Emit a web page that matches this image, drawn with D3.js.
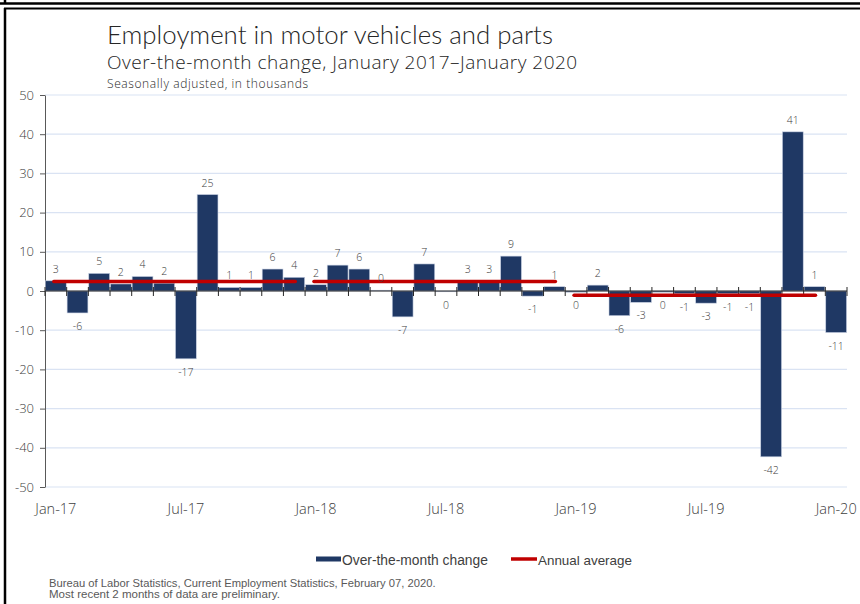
<!DOCTYPE html>
<html>
<head>
<meta charset="utf-8">
<script src="https://cdn.jsdelivr.net/npm/d3@7"></script>
<style>
  html, body { margin: 0; padding: 0; background: #fff; }
  svg { display: block; }
</style>
</head>
<body>
<svg id="chart" width="860" height="604"></svg>
<script>
// ---- data ----
const months = [
  "Jan-17","Feb-17","Mar-17","Apr-17","May-17","Jun-17","Jul-17","Aug-17","Sep-17","Oct-17","Nov-17","Dec-17",
  "Jan-18","Feb-18","Mar-18","Apr-18","May-18","Jun-18","Jul-18","Aug-18","Sep-18","Oct-18","Nov-18","Dec-18",
  "Jan-19","Feb-19","Mar-19","Apr-19","May-19","Jun-19","Jul-19","Aug-19","Sep-19","Oct-19","Nov-19","Dec-19",
  "Jan-20"
];
const monthlyChange = [
  2.6, -5.6, 4.5, 1.8, 3.7, 2.0, -17.3, 24.6, 0.9, 0.9, 5.6, 3.5,
  1.6, 6.6, 5.6, 0.2, -6.6, 6.9, -0.2, 2.6, 2.6, 8.9, -1.3, 1.1,
  -0.3, 1.5, -6.3, -2.9, -0.3, -0.7, -3.1, -0.7, -0.7, -42.3, 40.6, 1.1,
  -10.6
];
const annualYears = [
  {start: "Jan-17", end: "Dec-17", value: 2.4},
  {start: "Jan-18", end: "Dec-18", value: 2.4},
  {start: "Jan-19", end: "Dec-19", value: -1.1}
];
const xTickLabels = ["Jan-17","Jul-17","Jan-18","Jul-18","Jan-19","Jul-19","Jan-20"];
const yTicks = [-50,-40,-30,-20,-10,0,10,20,30,40,50];

const titleText = "Employment in motor vehicles and parts";
const subtitleText = "Over-the-month change, January 2017\u2013January 2020";
const noteText = "Seasonally adjusted, in thousands";
const legendBar = "Over-the-month change";
const legendLine = "Annual average";
const source1 = "Bureau of Labor Statistics, Current Employment Statistics, February 07, 2020.";
const source2 = "Most recent 2 months of data are preliminary.";

// ---- layout ----
const svg = d3.select("#chart");
const plotL = 45, plotR = 847, plotT = 95, plotB = 487;
const navy = "#1f3864", red = "#c00000", grey = "#595959";
const font = "'Liberation Sans', Arial, sans-serif";
const titleFont = "Lato, 'Open Sans', sans-serif";
const openFont = "'Open Sans', 'DejaVu Sans', sans-serif";

const x = d3.scaleBand().domain(months).range([plotL, plotR]).paddingInner(0.04).paddingOuter(0.02);
const y = d3.scaleLinear().domain([-50, 50]).range([plotB, plotT]);

function fit(sel, target) {
  const w = sel.node().getComputedTextLength();
  const fs = parseFloat(sel.attr("font-size"));
  if (w > 0) sel.attr("font-size", (fs * target / w).toFixed(2));
  return sel;
}

// frame
svg.append("line").attr("x1", 0).attr("x2", 860).attr("y1", 3.5).attr("y2", 3.5).attr("stroke", "#000").attr("stroke-width", 2.5);
svg.append("line").attr("x1", 5).attr("x2", 5).attr("y1", 0).attr("y2", 4).attr("stroke", "#000").attr("stroke-width", 2.5);
svg.append("line").attr("x1", 4).attr("x2", 860).attr("y1", 8.5).attr("y2", 8.5).attr("stroke", "#000").attr("stroke-width", 2);
svg.append("line").attr("x1", 5).attr("x2", 5).attr("y1", 8).attr("y2", 604).attr("stroke", "#000").attr("stroke-width", 2.5);

// titles
fit(svg.append("text").attr("x", 107).attr("y", 44).attr("font-family", titleFont).attr("font-weight", 300)
  .attr("font-size", 25).attr("fill", "#262626").text(titleText), 446);
svg.append("text").attr("x", 107).attr("y", 68.5).attr("font-family", openFont).attr("font-weight", 300)
  .attr("font-size", 19).attr("letter-spacing", 0.5).attr("fill", "#262626").text(subtitleText);
svg.append("text").attr("x", 107).attr("y", 87.5).attr("font-family", openFont).attr("font-weight", 300)
  .attr("font-size", 12).attr("letter-spacing", 0.6).attr("fill", "#262626").text(noteText);

// gridlines
svg.append("g").selectAll("line").data(yTicks.filter(d => d !== 0)).join("line")
  .attr("x1", plotL).attr("x2", plotR)
  .attr("y1", d => y(d)).attr("y2", d => y(d))
  .attr("stroke", "#dae3f3").attr("stroke-width", 1.2);

// y axis
const yAxis = svg.append("g").attr("transform", `translate(${plotL},0)`)
  .call(d3.axisLeft(y).tickValues(yTicks).tickSize(5).tickSizeOuter(0).tickPadding(6).tickFormat(d3.format("d")));
yAxis.select(".domain").attr("stroke", "#595959");
yAxis.selectAll(".tick line").attr("stroke", "#595959");
yAxis.selectAll("text").attr("font-family", openFont).attr("font-weight", 300).attr("font-size", 13).attr("fill", "#404040")
  .text(d => String(d));

// bars
const barData = months.map((m, i) => ({m, v: monthlyChange[i]}));
svg.append("g").selectAll("rect").data(barData).join("rect")
  .attr("x", d => x(d.m))
  .attr("width", x.bandwidth())
  .attr("y", d => y(Math.max(0, d.v)))
  .attr("height", d => Math.abs(y(d.v) - y(0)))
  .attr("fill", navy)
  .attr("stroke", "#c8d1e3").attr("stroke-width", 0.6);

// x axis line with ticks at band boundaries
const step = x.step();
const bounds = months.map(m => x(m) - x.paddingInner() * step / 2)
  .concat([x(months[months.length - 1]) + x.bandwidth() + x.paddingInner() * step / 2]);
const xg = svg.append("g");
xg.append("line").attr("x1", plotL).attr("x2", plotR).attr("y1", y(0)).attr("y2", y(0)).attr("stroke", "#262626").attr("stroke-width", 1);
xg.selectAll("line.t").data(bounds).join("line").attr("class", "t")
  .attr("x1", d => d).attr("x2", d => d).attr("y1", y(0) - 4).attr("y2", y(0) + 5)
  .attr("stroke", "#262626").attr("stroke-width", 1);

// x tick labels
svg.append("g").selectAll("text").data(xTickLabels).join("text")
  .attr("x", d => x(d) + x.bandwidth() / 2).attr("y", 514)
  .attr("text-anchor", "middle").attr("font-family", openFont).attr("font-weight", 300).attr("font-size", 14.5).attr("fill", "#404040")
  .text(d => d);

// annual average lines
svg.append("g").selectAll("line").data(annualYears).join("line")
  .attr("x1", d => x(d.start) + x.bandwidth() / 2 - 2)
  .attr("x2", d => x(d.end) + x.bandwidth() / 2 + 1)
  .attr("y1", d => y(d.value)).attr("y2", d => y(d.value))
  .attr("stroke", red).attr("stroke-width", 3.5).attr("stroke-linecap", "round");

// data labels
const fmt = v => { const r = Math.round(v); return (r === 0 ? 0 : r).toString(); };
svg.append("g").selectAll("text").data(barData).join("text")
  .attr("x", d => x(d.m) + x.bandwidth() / 2)
  .attr("y", d => d.v >= 0 ? y(d.v) - 8 : y(d.v) + 17)
  .attr("text-anchor", "middle").attr("font-family", openFont).attr("font-weight", 300).attr("font-size", 10.5).attr("fill", "#404040")
  .text(d => fmt(d.v));

// legend
const lg = svg.append("g");
lg.append("rect").attr("x", 316).attr("y", 556.5).attr("width", 25).attr("height", 5).attr("fill", navy);
fit(lg.append("text").attr("x", 342).attr("y", 565).attr("font-family", font).attr("font-size", 13).attr("fill", "#404040").text(legendBar), 146);
lg.append("line").attr("x1", 511).attr("x2", 537).attr("y1", 559).attr("y2", 559).attr("stroke", red).attr("stroke-width", 3.5);
fit(lg.append("text").attr("x", 538).attr("y", 565).attr("font-family", font).attr("font-size", 13).attr("fill", "#404040").text(legendLine), 94);

// source
fit(svg.append("text").attr("x", 49).attr("y", 587).attr("font-family", font).attr("font-size", 10).attr("fill", grey).text(source1), 387);
fit(svg.append("text").attr("x", 49).attr("y", 598).attr("font-family", font).attr("font-size", 10).attr("fill", grey).text(source2), 231);
</script>
</body>
</html>
